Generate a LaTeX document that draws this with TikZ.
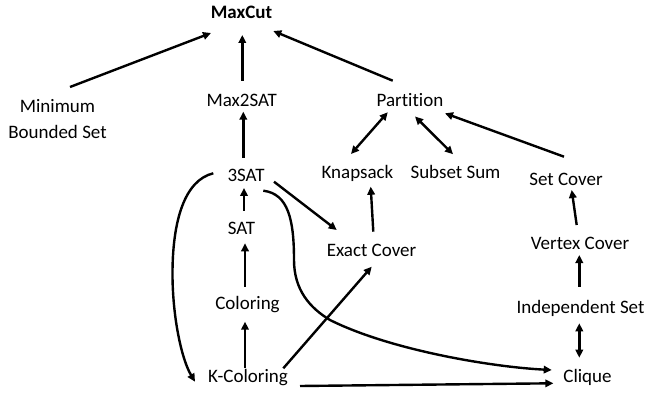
\documentclass[tikz,border=0pt]{standalone}
\usepackage{fontspec}
\setmainfont{Carlito}[Ligatures=NoCommon]
\usetikzlibrary{arrows.meta}
\begin{document}
\begin{tikzpicture}[x=1pt,y=-1pt,
  lbl/.style={inner sep=0pt,anchor=base,font=\fontsize{19}{26}\selectfont},
  conn/.style={line width=2.4pt,-{Triangle[length=8pt,width=7.5pt]}},
  bconn/.style={line width=2.4pt,{Triangle[length=8pt,width=7.5pt]}-{Triangle[length=8pt,width=7.5pt]}}]
\useasboundingbox (0,0) rectangle (647,395);
\node[lbl,font=\fontsize{19}{26}\selectfont\bfseries] (maxcut) at (241.5,18.5) {MaxCut};
\node[lbl,anchor=center,align=center] (mbs) at (57.5,119.5) {Minimum\\Bounded Set};
\node[lbl] (m2s) at (241.7,106.7) {Max2SAT};
\node[lbl] (part) at (410,106.7) {Partition};
\node[lbl] (sat3) at (246,181.7) {3SAT};
\node[lbl] (knap) at (357.5,178.3) {Knapsack};
\node[lbl] (subs) at (455.5,178.3) {Subset Sum};
\node[lbl] (setc) at (566,186) {Set Cover};
\node[lbl] (sat) at (241.5,235) {SAT};
\node[lbl] (exact) at (371.5,256.7) {Exact Cover};
\node[lbl] (color) at (247.5,309) {Coloring};
\node[lbl] (kcol) at (248,382.7) {K-Coloring};
\node[lbl] (vc) at (580,249.3) {Vertex Cover};
\node[lbl] (ind) at (580.5,313.3) {Independent Set};
\node[lbl] (cliq) at (587.5,382) {Clique};

\draw[conn] ([shift={(12.5,-32.5)}]mbs.center) -- ([shift={(-30.5,14.5)}]maxcut.base);
\draw[conn] ([shift={(0.6,-25.7)}]m2s.base) -- ([shift={(0.8,16.5)}]maxcut.base);
\draw[conn] ([shift={(-17.3,-26)}]part.base) -- ([shift={(31.8,12.5)}]maxcut.base);
\draw[conn] ([shift={(-2.7,-23.7)}]sat3.base) -- ([shift={(1.6,5)}]m2s.base);
\draw[bconn] ([shift={(-22.3,5.6)}]part.base) -- ([shift={(-6.5,-24.3)}]knap.base);
\draw[bconn] ([shift={(5,9.8)}]part.base) -- ([shift={(-2.5,-24.1)}]subs.base);
\draw[conn] ([shift={(-2,-29.3)}]setc.base) -- ([shift={(35,6.6)}]part.base);
\draw[conn] ([shift={(-3.3,-24.3)}]vc.base) -- ([shift={(5.7,4)}]setc.base);
\draw[conn] ([shift={(-1.2,-26.6)}]ind.base) -- ([shift={(-0.7,5.7)}]vc.base);
\draw[bconn] ([shift={(-1.2,10)}]ind.base) -- ([shift={(-8.2,-24.3)}]cliq.base);
\draw[conn] ([shift={(2.5,-24.3)}]sat.base) -- ([shift={(-2,6.3)}]sat3.base);
\draw[conn] ([shift={(-2.5,-22.3)}]color.base) -- ([shift={(3.5,8.3)}]sat.base);
\draw[conn] ([shift={(-3,-14.7)}]kcol.base) -- ([shift={(-2.5,12.7)}]color.base);
\draw[conn] ([shift={(1.8,-25)}]exact.base) -- ([shift={(13.2,8.4)}]knap.base);
\draw[conn] ([shift={(28,0)}]sat3.base) -- ([shift={(-34.8,-26.7)}]exact.base);
\draw[conn] ([shift={(35.3,-14.4)}]kcol.base) -- ([shift={(0.2,10)}]exact.base);
\draw[conn] ([shift={(52,3.3)}]kcol.base) -- ([shift={(-34.2,1.3)}]cliq.base);
\draw[conn] ([shift={(17.3,9)}]sat3.base) .. controls +(25,3) and +(0,-40) .. (294,260)
   .. controls +(0,30) and +(-20,-12) .. (330,320)
   .. controls +(60,30) and +(-60,-3) .. ([shift={(-35.8,-12)}]cliq.base);
\draw[conn] ([shift={(-32.7,-8.4)}]sat3.base) .. controls (185,180) and (172,220) .. (172.5,277)
   .. controls (173,320) and (182,360) .. ([shift={(-53,-1)}]kcol.base);
\end{tikzpicture}
\end{document}
